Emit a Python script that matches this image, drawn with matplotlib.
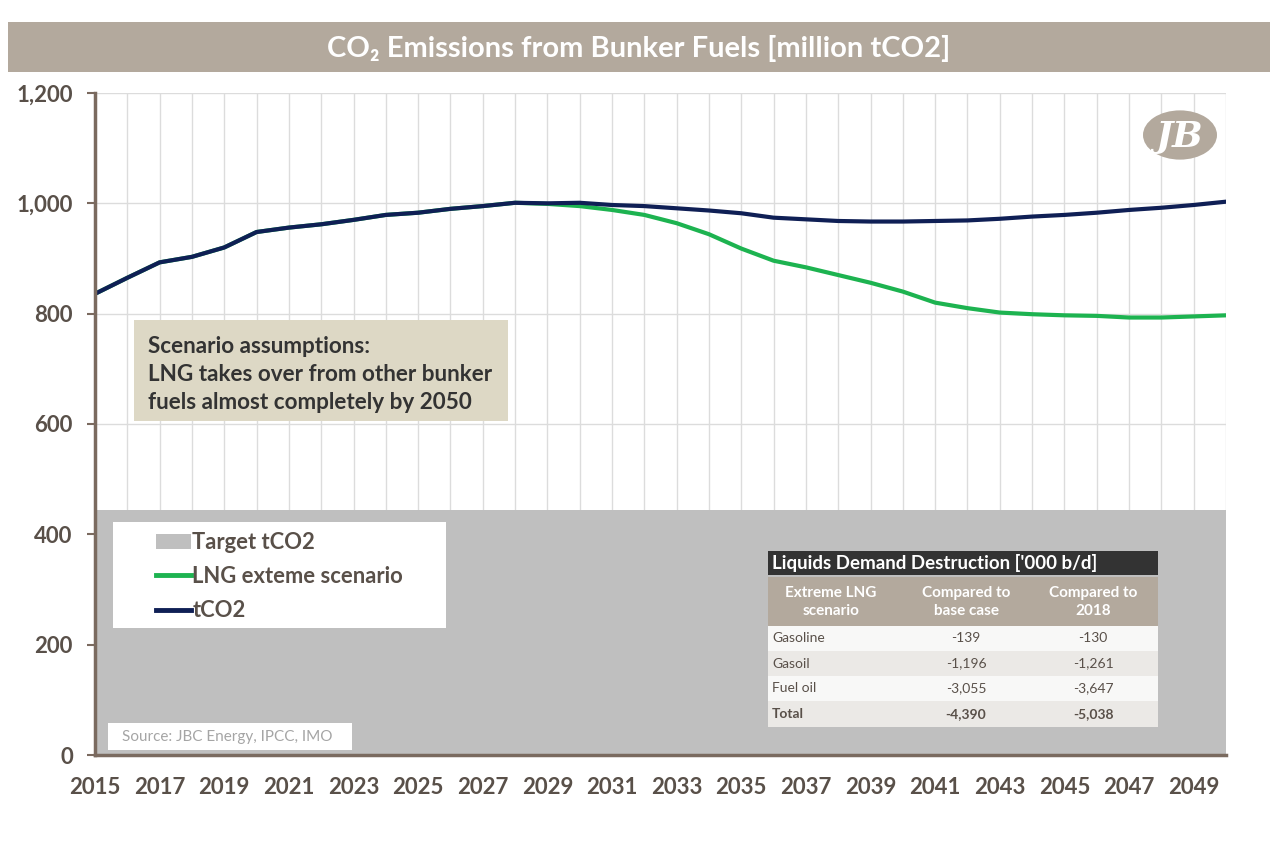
import matplotlib
matplotlib.use("Agg")
import matplotlib.pyplot as plt
from matplotlib.patches import Rectangle, Circle
from matplotlib.lines import Line2D
from matplotlib.patches import Patch

plt.rcParams['font.family'] = ['Lato', 'DejaVu Sans']

# data
years = list(range(2015, 2051))
tco2 = [836, 865, 893, 903, 920, 948, 956, 962, 970, 979, 983, 990, 995, 1001,
        1000, 1001, 997, 995, 991, 987, 982, 974, 971, 968, 967, 967, 968, 969,
        972, 976, 979, 983, 988, 992, 997, 1003]
lng_extreme = [836, 865, 893, 903, 920, 948, 956, 962, 970, 979, 983, 990, 995, 1001,
               999, 995, 988, 979, 964, 944, 918, 896, 884, 870, 856, 840, 820, 810,
               802, 799, 797, 796, 793, 793, 795, 797]
target = [445] * len(years)

table_title = "Liquids Demand Destruction ['000 b/d]"
table_header = ["Extreme LNG\nscenario", "Compared to\nbase case", "Compared to\n2018"]
table_rows = ["Gasoline", "Gasoil", "Fuel oil", "Total"]
vs_base = ["-139", "-1,196", "-3,055", "-4,390"]
vs_2018 = ["-130", "-1,261", "-3,647", "-5,038"]

W, H = 1279, 851
fig = plt.figure(figsize=(W / 100, H / 100), dpi=100)


def fx(px):
    return px / W


def fy(py):
    return 1 - py / H


def box(x0, y0, x1, y1, color, z=5):
    fig.patches.append(Rectangle((fx(x0), fy(y1)), fx(x1) - fx(x0), fy(y0) - fy(y1),
                                 transform=fig.transFigure, facecolor=color,
                                 edgecolor='none', zorder=z))


txt = '#595049'
brown = '#7a6a5f'
tan = '#b3a99d'

# title band
box(8, 22, 1270, 72, tan)
fig.text(fx(639), fy(48), "CO\u2082 Emissions from Bunker Fuels [million tCO2]",
         ha='center', va='center', color='white', fontsize=21, fontweight='bold', zorder=6)

ax = fig.add_axes([fx(95), fy(755), fx(1226) - fx(95), fy(93) - fy(755)])
ax.set_xlim(2015, 2050)
ax.set_ylim(0, 1200)

ax.fill_between(years, 0, target, color='#bfbfbf', zorder=2, linewidth=0)
ax.plot(years, lng_extreme, color='#1db350', lw=3, zorder=3)
ax.plot(years, tco2, color='#0f1f55', lw=3, zorder=4)

ax.set_xticks(years, minor=True)
ax.set_xticks(range(2015, 2050, 2))
ax.set_yticks(range(0, 1201, 200))
ax.set_yticklabels([f"{v:,}" for v in range(0, 1201, 200)])
ax.grid(True, which='both', axis='x', color='#dcdcdc', lw=1, zorder=1)
ax.grid(True, which='major', axis='y', color='#dcdcdc', lw=1, zorder=1)
ax.set_axisbelow(True)

for s in ['top', 'right']:
    ax.spines[s].set_visible(False)
for s in ['left', 'bottom']:
    ax.spines[s].set_color(brown)
    ax.spines[s].set_linewidth(2.5)
    ax.spines[s].set_zorder(5)
ax.tick_params(axis='y', colors=brown, length=6, width=1.5, labelsize=16,
               labelcolor=txt, pad=10)
ax.tick_params(axis='x', which='both', length=0, labelsize=16, labelcolor=txt, pad=16)
for lab in ax.get_xticklabels() + ax.get_yticklabels():
    lab.set_fontweight('bold')

# scenario box
box(134, 320, 508, 421, '#ddd8c5', z=6)
fig.text(fx(148), fy(336), "Scenario assumptions:\nLNG takes over from other bunker\nfuels almost completely by 2050",
         ha='left', va='top', fontsize=16.2, fontweight='bold', color='#333333',
         linespacing=1.42, zorder=7)

# legend box
box(113, 522, 446, 628, 'white', z=6)
handles = [Patch(facecolor='#bfbfbf', edgecolor='none'),
           Line2D([], [], color='#1db350', lw=3.5),
           Line2D([], [], color='#0f1f55', lw=3.5)]
leg = fig.legend(handles, ['Target tCO2', 'LNG exteme scenario', 'tCO2'],
                 loc='upper left', bbox_to_anchor=(fx(156), fy(532)), frameon=False,
                 prop={'weight': 'bold', 'size': 15.8}, labelcolor=txt,
                 handlelength=1.6, handletextpad=0.05, labelspacing=0.6,
                 borderpad=0, borderaxespad=0)
leg.set_zorder(7)

# source box
box(108, 723, 352, 750, 'white', z=6)
fig.text(fx(122), fy(737), "Source: JBC Energy, IPCC, IMO", ha='left', va='center',
         fontsize=11, color='#a5a5a5', zorder=7)

# table
tx0, tx1 = 768, 1158
box(tx0, 551, tx1, 575, '#333333', z=6)
fig.text(fx(772), fy(563.5), table_title, ha='left', va='center', fontsize=13.5,
         fontweight='bold', color='white', zorder=7)
box(tx0, 577, tx1, 626, tan, z=6)
col_c = [831, 966, 1093]
for c, h in zip(col_c, table_header):
    fig.text(fx(c), fy(602), h, ha='center', va='center', fontsize=11, fontweight='bold',
             color='white', linespacing=1.4, zorder=7)
row_y = [(626, 651), (651, 676), (676, 701), (701, 727)]
row_bg = ['#f8f8f7', '#ebe9e6', '#f8f8f7', '#ebe9e6']
for i, (name, a, b) in enumerate(zip(table_rows, vs_base, vs_2018)):
    y0, y1 = row_y[i]
    box(tx0, y0, tx1, y1, row_bg[i], z=6)
    yc = (y0 + y1) / 2
    w = 'bold' if name == 'Total' else 'normal'
    fs = 10
    fig.text(fx(772), fy(yc), name, ha='left', va='center', fontsize=fs, color=txt,
             fontweight=w, zorder=7)
    fig.text(fx(col_c[1]), fy(yc), a, ha='center', va='center', fontsize=fs, color=txt,
             fontweight=w, zorder=7)
    fig.text(fx(col_c[2]), fy(yc), b, ha='center', va='center', fontsize=fs, color=txt,
             fontweight=w, zorder=7)

# logo
fig.patches.append(Circle((fx(1180), fy(135)), 37 / W, transform=fig.transFigure,
                          facecolor=tan, edgecolor='none', zorder=6))
fig.text(fx(1180), fy(137), "JB", ha='center', va='center', fontsize=26,
         family='DejaVu Serif', fontweight='bold', style='italic', color='white', zorder=7)

fig.savefig("out.png", dpi=100)
